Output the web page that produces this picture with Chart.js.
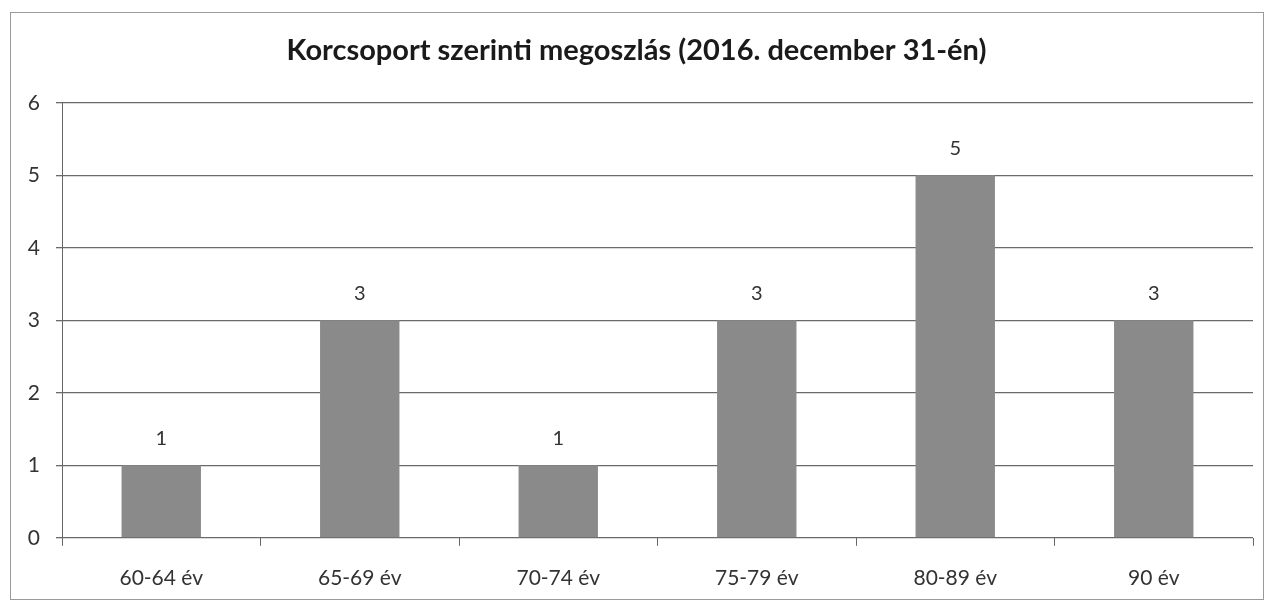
<!DOCTYPE html>
<html>
<head>
<meta charset="utf-8">
<script src="https://cdn.jsdelivr.net/npm/chart.js@4"></script>
<style>
  html, body { margin: 0; padding: 0; background: #fff; }
  #frame { position: absolute; left: 10px; top: 12px; width: 1254px; height: 588px; border: 1px solid #9a9a9a; box-sizing: border-box; }
  #wrap { position: absolute; left: 0; top: 0; width: 1274px; height: 611px; }
</style>
</head>
<body>
<div id="frame"></div>
<div id="wrap"><canvas id="chart"></canvas></div>
<script>
const titleText = "Korcsoport szerinti megoszlás (2016. december 31-én)";
const categories = ["60-64 év", "65-69 év", "70-74 év", "75-79 év", "80-89 év", "90 év"];
const counts = [1, 3, 1, 3, 5, 3];
const yTicks = [0, 1, 2, 3, 4, 5, 6];

const FONT = "Lato, 'Open Sans', sans-serif";

// value labels above each bar
const barLabels = {
  id: "barLabels",
  afterDatasetsDraw(chart) {
    const ctx = chart.ctx;
    const meta = chart.getDatasetMeta(0);
    ctx.save();
    ctx.font = "20px " + FONT;
    ctx.fillStyle = "#333";
    ctx.textAlign = "center";
    ctx.textBaseline = "bottom";
    meta.data.forEach((bar, i) => {
      ctx.fillText(String(counts[i]), bar.x, bar.y - 17);
    });
    ctx.restore();
  }
};

new Chart(document.getElementById("chart").getContext("2d"), {
  type: "bar",
  data: {
    labels: categories,
    datasets: [{
      data: counts,
      backgroundColor: "#8a8a8a",
      borderWidth: 0,
      categoryPercentage: 0.4,
      barPercentage: 1
    }]
  },
  options: {
    responsive: true,
    maintainAspectRatio: false,
    animation: false,
    layout: { padding: { left: 20, right: 21, top: 33, bottom: 0 } },
    plugins: {
      legend: { display: false },
      tooltip: { enabled: false },
      title: {
        display: true,
        text: titleText,
        color: "#1a1a1a",
        font: { family: FONT, size: 29, weight: "bold" },
        padding: { top: 0, bottom: 35 }
      }
    },
    scales: {
      x: {
        grid: { drawOnChartArea: false, drawTicks: true, tickLength: 8, color: "#666", offset: true },
        border: { display: false },
        ticks: { color: "#333", font: { family: FONT, size: 21 }, padding: 20 }
      },
      y: {
        min: 0,
        max: 6,
        afterBuildTicks(axis) { axis.ticks = yTicks.map(v => ({ value: v })); },
        afterFit(axis) { axis.width = 42; },
        grid: { color: "#6a6a6a", lineWidth: 1.3, tickLength: 6 },
        border: { display: true, color: "#666" },
        ticks: { color: "#333", font: { family: FONT, size: 21 }, padding: 16 }
      }
    }
  },
  plugins: [barLabels]
});
</script>
</body>
</html>
